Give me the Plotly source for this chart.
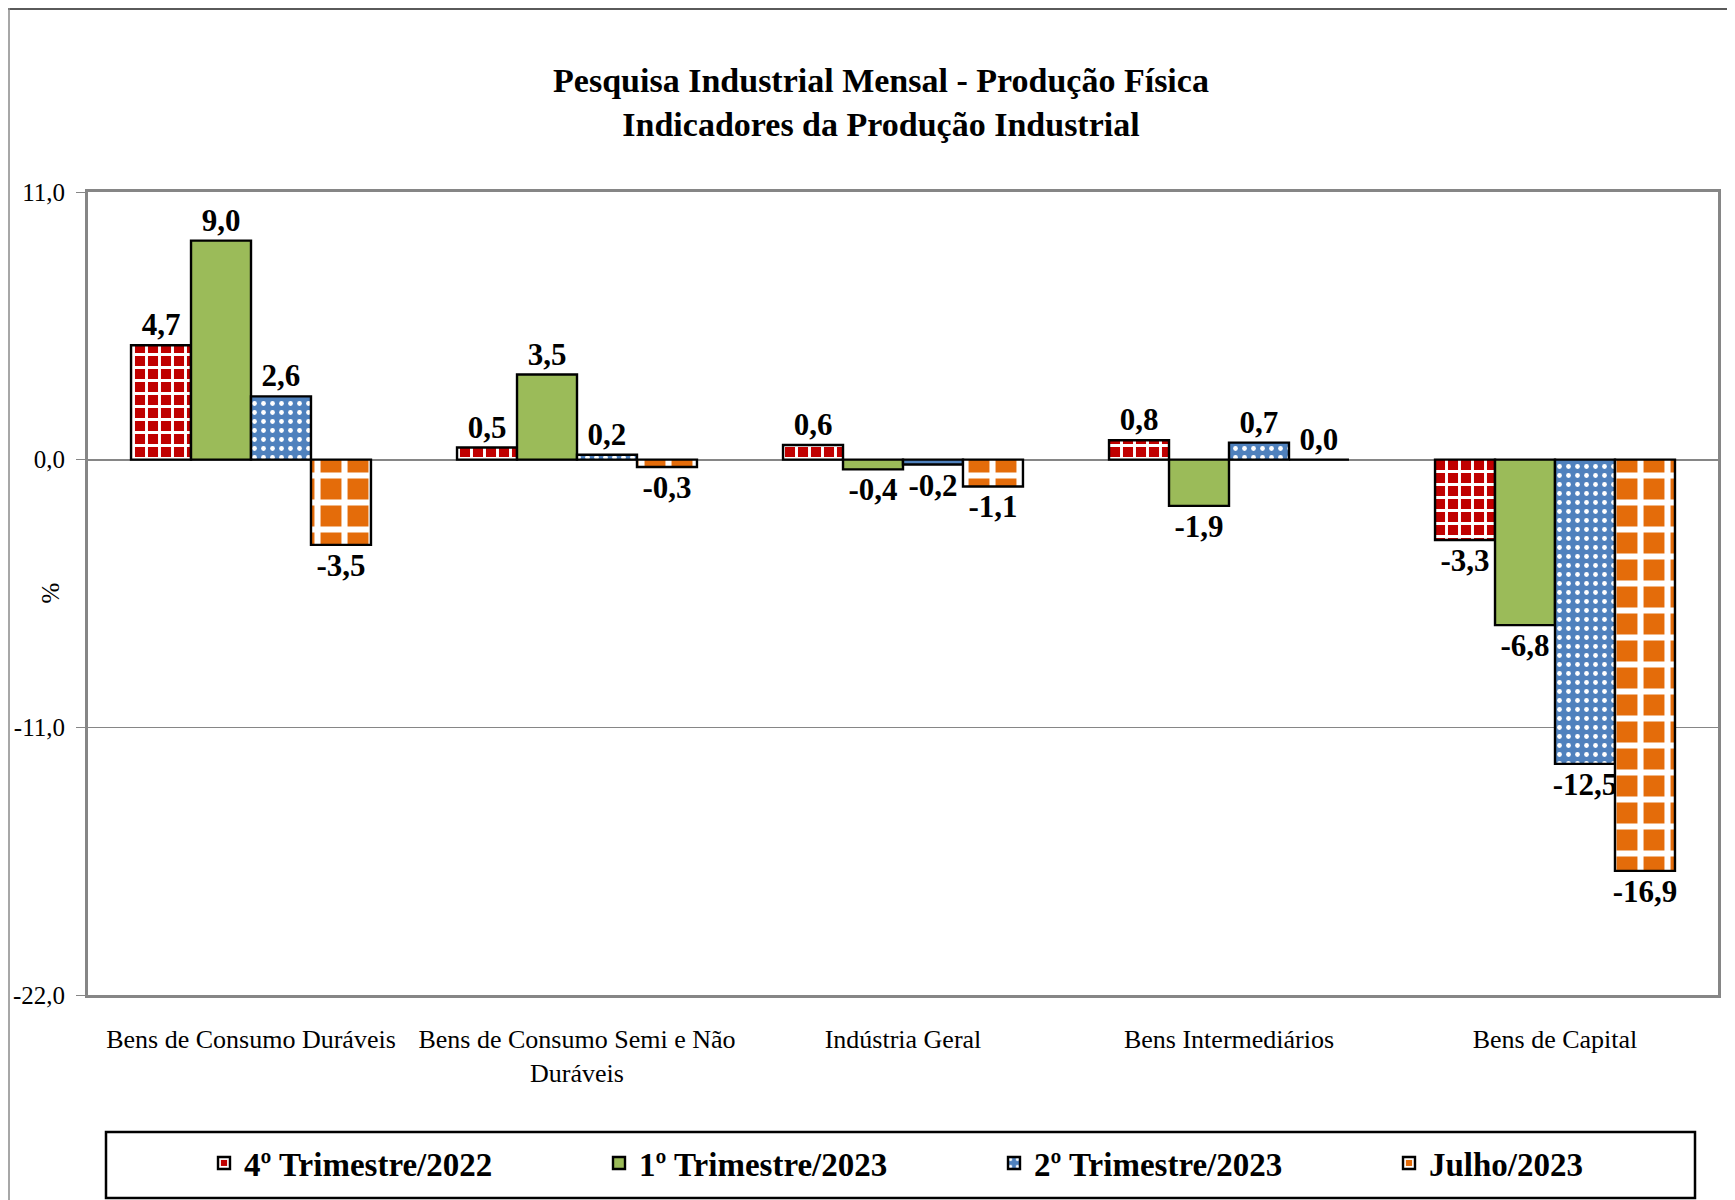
import plotly.graph_objects as go

categories = ["Bens de Consumo Duráveis", "Bens de Consumo Semi e Não<br>Duráveis",
              "Indústria Geral", "Bens Intermediários", "Bens de Capital"]
series_names = ["4º Trimestre/2022", "1º Trimestre/2023", "2º Trimestre/2023", "Julho/2023"]
q4_2022 = [4.7, 0.5, 0.6, 0.8, -3.3]
q1_2023 = [9.0, 3.5, -0.4, -1.9, -6.8]
q2_2023 = [2.6, 0.2, -0.2, 0.7, -12.5]
jul_2023 = [-3.5, -0.3, -1.1, 0.0, -16.9]
y_ticks = [-22, -11, 0, 11]
y_tick_labels = ["-22,0", "-11,0", "0,0", "11,0"]

OFF = 8  # page body margin
W, H = 1727, 1192
L, R, T, B = 80, 17, 184, 205
PW, PH = W - L - R, H - T - B


def px_x(sx):
    return (sx - OFF - L) / PW


def px_y(sy):
    return (H - B - (sy - OFF)) / PH


def fmt(v):
    return f"{v:.1f}".replace(".", ",")


styles = [
    dict(color="#C00000", pattern=dict(shape="+", fgcolor="white", bgcolor="#C00000", fgopacity=1,
                                       size=13, solidity=0.4, fillmode="overlay")),
    dict(color="#9BBB59", pattern=None),
    dict(color="#4F81BD", pattern=dict(shape=".", fgcolor="white", bgcolor="#4F81BD", fgopacity=1,
                                       size=9, solidity=0.22, fillmode="overlay")),
    dict(color="#E46C0A", pattern=dict(shape="+", fgcolor="white", bgcolor="#E46C0A", fgopacity=1,
                                       size=27, solidity=0.4, fillmode="overlay")),
]

fig = go.Figure()
for name, vals, st in zip(series_names, [q4_2022, q1_2023, q2_2023, jul_2023], styles):
    marker = dict(color=st["color"], line=dict(color="black", width=2.4))
    if st["pattern"]:
        marker["pattern"] = st["pattern"]
    fig.add_trace(go.Bar(
        x=categories, y=vals, name=name, marker=marker,
        text=[fmt(v) for v in vals], textposition="outside",
        textfont=dict(family="Liberation Serif", size=31, color="black", weight="bold"),
        constraintext="none", cliponaxis=False,
    ))

shapes = [
    dict(type="line", xref="paper", yref="paper", x0=px_x(OFF), x1=px_x(W + OFF), y0=px_y(OFF + 1), y1=px_y(OFF + 1),
         line=dict(color="#5a5a5a", width=2)),
    dict(type="line", xref="paper", yref="paper", x0=px_x(OFF + 1), x1=px_x(OFF + 1), y0=px_y(OFF), y1=px_y(H + OFF),
         line=dict(color="#8a8a8a", width=1.5)),
    dict(type="rect", xref="paper", yref="paper", x0=px_x(106), x1=px_x(1695), y0=px_y(1198), y1=px_y(1132),
         line=dict(color="black", width=2.5)),
]

fig.update_layout(
    width=W, height=H,
    margin=dict(l=L, r=R, t=T, b=B, autoexpand=False),
    paper_bgcolor="white", plot_bgcolor="white",
    separators=",.",
    font=dict(family="Liberation Serif", color="black"),
    title=dict(text="Pesquisa Industrial Mensal - Produção Física<br>Indicadores da Produção Industrial",
               x=(881 - OFF) / W, xref="container", xanchor="center",
               y=1 - 84 / H, yref="container", yanchor="middle",
               font=dict(family="Liberation Serif", size=34, color="black", weight="bold")),
    barmode="group", bargap=0.264, bargroupgap=0,
    showlegend=True,
    legend=dict(orientation="h", x=px_x(204), xanchor="left", y=px_y(1163), yanchor="middle",
                entrywidth=350, entrywidthmode="pixels", bgcolor="rgba(0,0,0,0)",
                font=dict(family="Liberation Serif", size=33, color="black", weight="bold"),
                traceorder="normal"),
    xaxis=dict(showline=True, linecolor="#868686", linewidth=3, mirror=True, ticks="",
               tickfont=dict(family="Liberation Serif", size=26, color="black"),
               ticklabelstandoff=19, showgrid=False, zeroline=False),
    xaxis2=dict(overlaying="x", anchor="free", position=px_y(460), range=[-0.5, 4.5],
                tickmode="array", tickvals=[0.5, 1.5, 2.5, 3.5], ticks="outside", ticklen=11,
                tickcolor="#555555", tickwidth=1, showticklabels=False, showgrid=False,
                zeroline=False, showline=False),
    yaxis=dict(range=[-22, 11], tickmode="array", tickvals=y_ticks, ticktext=y_tick_labels,
               showline=True, linecolor="#868686", linewidth=3, mirror=True,
               ticks="outside", ticklen=9, tickcolor="#868686",
               tickfont=dict(family="Liberation Serif", size=25, color="black"),
               ticklabelstandoff=6,
               showgrid=True, gridcolor="#868686", gridwidth=1.2,
               zeroline=True, zerolinecolor="#868686", zerolinewidth=1.5),
    shapes=shapes,
    annotations=[dict(text="%", xref="paper", yref="paper", x=px_x(50), y=0.5, xanchor="center",
                      yanchor="middle", showarrow=False, textangle=-90,
                      font=dict(family="Liberation Serif", size=25, color="black"))],
)

fig.write_html("out.html")
